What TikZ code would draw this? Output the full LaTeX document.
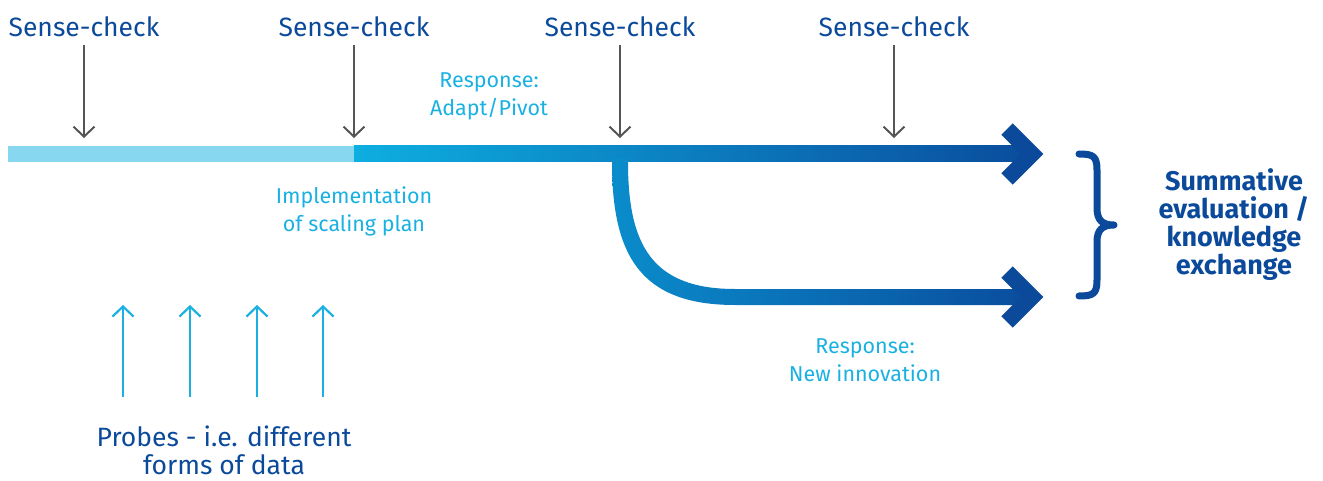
\documentclass[tikz,border=0pt]{standalone}
\usepackage{fontspec}
\setmainfont{Fira Sans}
\usetikzlibrary{arrows.meta}
\definecolor{dkblue}{HTML}{0B4A9B}
\definecolor{ltblue}{HTML}{1AB1E2}
\definecolor{barlight}{HTML}{87D7F0}
\definecolor{barstart}{HTML}{0DAEE0}
\definecolor{barend}{HTML}{0A4D9D}
\definecolor{branchstart}{HTML}{0A8CCB}
\definecolor{checkgray}{HTML}{555555}
\tikzset{
  senselabel/.style={text=dkblue, font=\fontsize{26.5}{29}\selectfont, inner sep=0pt},
  resplabel/.style={text=ltblue, font=\fontsize{21.5}{28}\selectfont, align=center, inner sep=0pt},
  probelabel/.style={text=dkblue, font=\fontsize{26.5}{28}\selectfont, align=center, inner sep=0pt},
  sumlabel/.style={text=dkblue, font=\bfseries\fontsize{27}{28}\selectfont, align=center, inner sep=0pt},
  checkarrow/.style={draw=checkgray, line width=2pt, -{Straight Barb[length=10pt,width=21pt,line width=2pt]}},
  probearrow/.style={draw=ltblue, line width=2.2pt, -{Straight Barb[length=10pt,width=21pt,line width=2.2pt]}},
  chevron/.style={draw=dkblue, line width=16pt, miter limit=10, line join=miter},
}
\begin{document}
\begin{tikzpicture}[x=1pt,y=-1pt]
\useasboundingbox (0,0) rectangle (1323,481);
% bars
\fill[barlight] (8,146) rectangle (354,162);
\shade[left color=barstart, right color=barend] (354,146) rectangle (1030,162);
\shade[left color=branchstart, right color=barend]
  (612,158) -- (612,162) .. controls (612,255) and (640,305) .. (735,305)
  -- (1030,305) -- (1030,289) -- (735,289)
  .. controls (652,289) and (628,245) .. (628,162) -- (628,158) -- cycle;
\draw[chevron] (1007,129) -- (1032,154) -- (1007,179);
\draw[chevron] (1007,272) -- (1032,297) -- (1007,322);
% sense-check labels and arrows
\node[senselabel] (s1) at (84,27) {Sense-check};
\node[senselabel] (s2) at (354,27) {Sense-check};
\node[senselabel] (s3) at (620,27) {Sense-check};
\node[senselabel] (s4) at (894,27) {Sense-check};
\coordinate (t1) at (84,138);
\coordinate (t2) at (354,138);
\coordinate (t3) at (620,138);
\coordinate (t4) at (894,138);
\foreach \i in {1,2,3,4} {\draw[checkarrow] (s\i.south |- 0,45) -- (t\i);}
% response labels
\node[resplabel] (adapt) at (489,96) {Response:\\Adapt/Pivot};
\node[resplabel] (impl) at (354,211) {Implementation\\of scaling plan};
\node[resplabel] (innov) at (865,360) {Response:\\New innovation};
% probes
\node[probelabel] (probes) at (224,450) {Probes - i.e. different\\forms of data};
\foreach \x [count=\i] in {123,190,257,323} {
  \coordinate (pb\i) at (\x,397);
  \coordinate (pt\i) at (\x,305);
  \draw[probearrow] (pb\i) -- (pt\i);
}
% brace
\draw[dkblue, line width=7pt, line cap=round, line join=round]
  (1079,154) .. controls (1093,154) and (1097,156) .. (1097,170)
  -- (1097,208) .. controls (1097,220) and (1102,225) .. (1114,225)
  .. controls (1102,225) and (1097,230) .. (1097,242)
  -- (1097,280) .. controls (1097,294) and (1093,296) .. (1079,296);
\node[sumlabel] (sum) at (1234,225) {Summative\\evaluation /\\knowledge\\exchange};
\end{tikzpicture}
\end{document}
